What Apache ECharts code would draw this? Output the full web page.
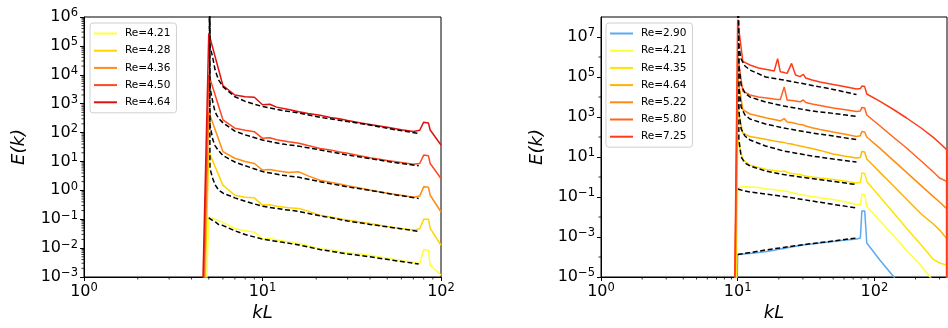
<!DOCTYPE html>
<html><head><meta charset="utf-8">
<script src="https://cdn.jsdelivr.net/npm/echarts@6/dist/echarts.min.js"></script>
<style>html,body{margin:0;padding:0;background:#fff}#c{width:948px;height:328px}</style>
</head><body><div id="c"></div>
<script>
// ================= LEFT PANEL =================
const leftNames  = ['Re=4.21','Re=4.28','Re=4.36','Re=4.50','Re=4.64'];
const leftColors = ['#ffff3c','#ffd400','#ff8c14','#ff4820','#de1010'];
// wavenumbers kL (solid spectra)
const leftK = [4,5,6,7,8,9,10,11,12,14,16,18,21,24,27,30,35,40,50,60,70,76,80,85,87,100];
// log10 E(k)
const leftE421 = [-20,-0.92,-1.11,-1.32,-1.40,-1.44,-1.69,-1.66,-1.72,-1.78,-1.84,-1.92,-2.02,-2.06,-2.12,-2.16,-2.20,-2.25,-2.35,-2.43,-2.49,-2.54,-2.05,-2.07,-2.59,-2.94];
const leftE428 = [-20,1.34,0.18,-0.17,-0.24,-0.26,-0.51,-0.50,-0.55,-0.60,-0.63,-0.72,-0.86,-0.92,-0.98,-1.03,-1.10,-1.15,-1.25,-1.32,-1.37,-1.33,-1.00,-1.00,-1.32,-1.90];
const leftE436 = [-20,2.72,1.34,1.11,1.00,0.93,0.70,0.72,0.68,0.62,0.64,0.50,0.35,0.28,0.22,0.16,0.08,0.01,-0.10,-0.17,-0.24,-0.20,0.12,0.11,-0.17,-0.75];
const leftE450 = [-20,4.00,2.44,2.15,2.08,2.03,1.80,1.82,1.75,1.68,1.63,1.55,1.45,1.40,1.33,1.28,1.20,1.13,1.03,0.96,0.90,0.93,1.22,1.20,0.93,0.41];
const leftE464 = [-20,5.44,3.63,3.30,3.24,3.22,2.96,2.98,2.88,2.80,2.72,2.66,2.60,2.52,2.48,2.42,2.34,2.28,2.18,2.10,2.04,2.08,2.36,2.33,2.09,1.57];
// fits (black dashed); first points lie far above the frame
const leftFitK = [5,5.08,5.27,5.42,5.66,6.02,7,8,10,13,16,21,30,40,55,75];
const leftFit421 = [-0.95,-1.00,-1.05,-1.08,-1.18,-1.22,-1.40,-1.53,-1.69,-1.80,-1.89,-2.05,-2.20,-2.30,-2.43,-2.55];
const leftFit428 = [12,0.75,0.40,0.20,0.02,-0.10,-0.26,-0.38,-0.55,-0.66,-0.73,-0.88,-1.06,-1.18,-1.30,-1.42];
const leftFit436 = [12.07,2.26,1.75,1.55,1.38,1.20,0.98,0.85,0.65,0.52,0.45,0.30,0.12,0.00,-0.15,-0.28];
const leftFit450 = [12.13,3.55,3.05,2.72,2.50,2.33,2.05,1.92,1.74,1.60,1.53,1.40,1.22,1.10,0.96,0.85];
const leftFit464 = [12.2,4.98,4.58,4.18,3.83,3.58,3.24,3.08,2.90,2.76,2.68,2.53,2.38,2.26,2.10,1.97];

// ================= RIGHT PANEL =================
const rightNames  = ['Re=2.90','Re=4.21','Re=4.35','Re=4.64','Re=5.22','Re=5.80','Re=7.25'];
const rightColors = ['#5aaaf0','#ffff3c','#ffe400','#ffb400','#ff8c10','#ff6420','#ff3a18'];
const rightK = [9,10,10.9,12.3,14.2,16.3,18.5,19.6,20.5,21.9,23,24.8,26.5,28.6,30.2,31.5,35,40,50,60,74,79,81,85,88,110,140,172,220,270,300,338,339];
const rightE290 = [-20,-3.88,-3.85,-3.82,-3.78,-3.72,-3.66,-3.62,-3.60,-3.57,-3.54,-3.50,-3.46,-3.42,-3.40,-3.38,-3.35,-3.30,-3.22,-3.16,-3.10,-3.05,-1.70,-1.70,-3.30,-4.16,-5.03,-5.80,-6.80,-7.60,-8.00,-8.50,-20];
const rightE421 = [-20,-0.55,-0.48,-0.50,-0.53,-0.60,-0.62,-0.66,-0.68,-0.70,-0.72,-0.78,-0.82,-0.88,-0.90,-0.92,-0.98,-1.04,-1.13,-1.22,-1.37,-1.38,-0.88,-0.88,-1.47,-2.20,-2.98,-3.66,-4.45,-5.20,-5.60,-6.00,-20];
const rightE435 = [-20,1.90,0.87,0.60,0.48,0.38,0.32,0.30,0.28,0.30,0.24,0.18,0.15,0.12,0.08,0.05,0.00,-0.05,-0.13,-0.20,-0.30,-0.28,0.20,0.18,-0.22,-1.00,-1.84,-2.56,-3.40,-4.12,-4.30,-4.40,-20];
const rightE464 = [-20,3.40,2.20,2.02,1.95,1.87,1.80,1.77,1.75,1.72,1.68,1.65,1.60,1.55,1.52,1.49,1.42,1.33,1.15,1.05,0.95,0.98,1.28,1.25,0.90,0.23,-0.49,-1.11,-1.85,-2.35,-2.65,-3.08,-20];
const rightE522 = [-20,5.00,3.37,3.15,3.05,2.95,2.88,2.84,2.80,2.92,2.75,2.72,2.68,2.62,2.60,2.55,2.46,2.38,2.25,2.15,2.03,2.06,2.28,2.25,2.00,1.43,0.78,0.23,-0.43,-0.98,-1.25,-1.58,-20];
const rightE580 = [-20,6.10,4.30,4.10,4.00,3.95,3.90,3.88,3.88,4.50,3.85,3.83,3.80,3.76,3.85,3.72,3.65,3.58,3.45,3.37,3.27,3.30,3.48,3.45,3.10,2.55,1.95,1.45,0.80,0.25,-0.05,-0.22,-20];
const rightE725 = [-20,7.87,5.78,5.60,5.45,5.37,5.30,5.92,5.26,5.22,5.18,5.68,5.10,5.02,5.13,4.95,4.85,4.75,4.62,4.52,4.40,4.42,4.55,4.52,4.15,3.78,3.35,2.95,2.45,1.98,1.70,1.37,-20];
const rightFitK = [10,10.2,10.6,11.3,12.3,16,21.7,35,50,74];
const rightFit290 = [-3.88,-3.87,-3.85,-3.82,-3.78,-3.65,-3.52,-3.33,-3.20,-3.05];
const rightFit421 = [-0.60,-0.62,-0.65,-0.70,-0.75,-0.85,-0.97,-1.20,-1.37,-1.55];
const rightFit435 = [12,1.90,1.00,0.70,0.55,0.30,0.12,-0.08,-0.22,-0.38];
const rightFit464 = [12,3.30,2.40,2.05,1.85,1.55,1.30,1.05,0.90,0.75];
const rightFit522 = [12,4.50,3.50,3.10,2.90,2.65,2.45,2.20,2.05,1.87];
const rightFit580 = [12,5.60,4.60,4.20,4.00,3.75,3.55,3.30,3.18,3.03];
const rightFit725 = [12,6.50,5.90,5.55,5.35,5.00,4.85,4.58,4.38,4.12];

// ================= BUILD =================
const DV = 'DejaVu Sans';
const leftSolid = [leftE421,leftE428,leftE436,leftE450,leftE464];
const leftFits  = [leftFit421,leftFit428,leftFit436,leftFit450,leftFit464];
const rightSolid = [rightE290,rightE421,rightE435,rightE464,rightE522,rightE580,rightE725];
const rightFits  = [rightFit290,rightFit421,rightFit435,rightFit464,rightFit522,rightFit580,rightFit725];

const pts = (ks, es) => ks.map((k, i) => [Math.log10(k), es[i]]);

function expLabel(v) {
  const n = Math.round(v);
  if (Math.abs(v - n) > 1e-6) return '';
  const s = n < 0 ? '\u2212' + (-n) : String(n);
  return '{b|10}{s|' + s + '}';
}
const rich = {
  b: {fontSize: 16, fontFamily: DV, color: '#000'},
  s: {fontSize: 11.5, fontFamily: DV, color: '#000', padding: [0, 0, 7, 0]}
};
const axisCommon = {
  type: 'value',
  splitLine: {show: false},
  axisLine: {show: true, onZero: false, lineStyle: {color: '#000', width: 1}},
  axisTick: {show: true, length: 4, lineStyle: {color: '#000', width: 1}},
  nameLocation: 'middle',
  nameTextStyle: {fontFamily: DV, fontSize: 18, color: '#000', fontStyle: 'italic',
    rich: {i: {fontFamily: DV, fontSize: 18, fontStyle: 'italic', color: '#000'},
           n: {fontFamily: DV, fontSize: 18, color: '#000'}}}
};
const xMaxRight = Math.log10(340);

// series ids carry a panel prefix so equal labels in both legends stay distinct
const PREFIX = ['L:', 'R:'];
const series = [];
function addPanel(idx, names, colors, ks, solids, fks, fits) {
  solids.forEach((es, i) => {
    series.push({
      type: 'line', name: PREFIX[idx] + names[i], xAxisIndex: idx, yAxisIndex: idx,
      data: pts(ks, es), symbol: 'none', showSymbol: false, clip: true,
      lineStyle: {color: colors[i], width: 1.5}, itemStyle: {color: colors[i]},
      silent: true
    });
    series.push({
      type: 'line', name: 'fit' + idx + '_' + i, xAxisIndex: idx, yAxisIndex: idx,
      data: pts(fks, fits[i]), symbol: 'none', showSymbol: false, clip: true,
      lineStyle: {color: '#000', width: 1.5, type: [5, 2.6]}, itemStyle: {color: '#000'},
      silent: true
    });
  });
}
addPanel(0, leftNames, leftColors, leftK, leftSolid, leftFitK, leftFits);
addPanel(1, rightNames, rightColors, rightK, rightSolid, rightFitK, rightFits);

// minor ticks (log-scale minors at 2..9 per decade)
const logMinors = (d0, d1, maxV) => {
  const out = [];
  for (let d = d0; d <= d1; d++) for (let m = 2; m <= 9; m++) {
    const v = d + Math.log10(m); if (v < maxV) out.push(v);
  }
  return out;
};
function minorSeries(idx, vals, isX, base) {
  return {
    type: 'custom', xAxisIndex: idx, yAxisIndex: idx, silent: true, clip: false, z: 5,
    data: vals.map(v => isX ? [v, base] : [base, v]),
    renderItem: (p, api) => {
      const c = api.coord([api.value(0), api.value(1)]);
      return {type: 'line',
        shape: isX ? {x1: c[0], y1: c[1], x2: c[0], y2: c[1] + 2.5}
                   : {x1: c[0], y1: c[1], x2: c[0] - 2.5, y2: c[1]},
        style: {stroke: '#000', lineWidth: 0.8}};
    }
  };
}
series.push(minorSeries(0, logMinors(0, 1, 2), true, -3));
series.push(minorSeries(0, logMinors(-3, 5, 6), false, 0));
series.push(minorSeries(1, logMinors(0, 2, xMaxRight), true, -5));
series.push(minorSeries(1, [-4, -2, 0, 2, 4, 6], false, 0));

const legendCommon = {
  orient: 'vertical', itemWidth: 23, itemHeight: 10, itemGap: 6.2,
  padding: [5, 6, 5, 3], backgroundColor: 'rgba(255,255,255,0.8)',
  borderColor: '#d0d0d0', borderWidth: 1, borderRadius: 3,
  itemStyle: {opacity: 0},
  formatter: n => n.slice(2),
  textStyle: {fontFamily: DV, fontSize: 10.5, color: '#000', padding: [0, 0, 0, 3]},
  selectedMode: false
};

const option = {
  animation: false,
  backgroundColor: '#fff',
  grid: [
    {left: 84, top: 17, width: 357, height: 260, show: true, borderColor: '#000', borderWidth: 1, backgroundColor: 'transparent'},
    {left: 601, top: 17, width: 346, height: 260, show: true, borderColor: '#000', borderWidth: 1, backgroundColor: 'transparent'}
  ],
  xAxis: [
    Object.assign({}, axisCommon, {gridIndex: 0, min: 0, max: 2, interval: 1, name: 'kL', nameGap: 26,
      axisLabel: {formatter: expLabel, rich: rich, margin: 5}}),
    Object.assign({}, axisCommon, {gridIndex: 1, min: 0, max: xMaxRight, interval: 1, name: 'kL', nameGap: 26,
      axisLabel: {formatter: expLabel, rich: rich, margin: 5, showMaxLabel: false}})
  ],
  yAxis: [
    Object.assign({}, axisCommon, {gridIndex: 0, min: -3, max: 6, interval: 1,
      name: '{i|E}{n|(}{i|k}{n|)}', nameGap: 56,
      axisLabel: {formatter: expLabel, rich: rich, margin: 6}}),
    Object.assign({}, axisCommon, {gridIndex: 1, min: -5, max: 8, interval: 2,
      name: '{i|E}{n|(}{i|k}{n|)}', nameGap: 55,
      axisLabel: {formatter: v => (Math.round(v) % 2 !== 0 ? expLabel(v) : ''), rich: rich, margin: 6, showMaxLabel: false}})
  ],
  legend: [
    Object.assign({}, legendCommon, {left: 90, top: 23, data: leftNames.map(n => PREFIX[0] + n)}),
    Object.assign({}, legendCommon, {left: 606, top: 23, data: rightNames.map(n => PREFIX[1] + n)})
  ],
  series: series
};
const chart = echarts.init(document.getElementById('c'), null, {renderer: 'canvas'});
chart.setOption(option);
</script>
</body></html>
